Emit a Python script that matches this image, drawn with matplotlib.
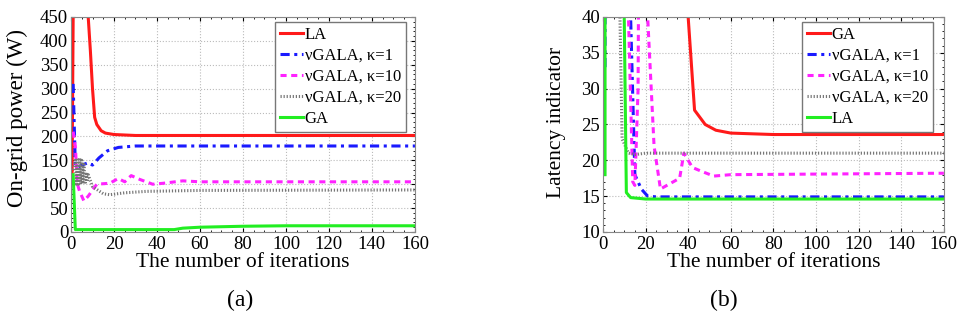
import numpy as np
import matplotlib
matplotlib.use("Agg")
import matplotlib.pyplot as plt
from matplotlib.ticker import MultipleLocator

plt.rcParams['font.family'] = ['Liberation Serif', 'DejaVu Serif']

# ---- panel (a): on-grid power ----
la_a_x = [0.5, 1, 2, 7, 8, 9, 10, 11, 12, 14, 16, 20, 30, 40, 160]
la_a_y = [120, 450, 900, 900, 450, 380, 300, 240, 225, 212, 207, 204, 202, 202, 202]

k1_a_x = [1, 2, 3, 5, 8, 10, 13, 17, 22, 30, 40, 160]
k1_a_y = [310, 140, 135, 140, 145, 140, 155, 170, 177, 180, 180, 180]

k10_a_x = [1, 2, 3, 4, 6, 8, 12, 18, 22, 25, 28, 32, 38, 43, 52, 60, 160]
k10_a_y = [210, 180, 100, 85, 65, 75, 100, 102, 112, 105, 118, 110, 100, 102, 107, 105, 105]

k20_a_x = [1, 2, 2.5, 3, 3.5, 4, 4.5, 5, 5.5, 6, 6.5, 7, 7.5, 8, 10, 15, 18, 25, 35, 60, 160]
k20_a_y = [130, 150, 100, 155, 100, 155, 100, 150, 105, 145, 100, 125, 105, 120, 95, 80, 78, 82, 85, 87, 88]

ga_a_x = [1, 2, 10, 48, 52, 60, 80, 100, 160]
ga_a_y = [120, 5, 5, 5, 8, 10, 12, 13, 13]

# ---- panel (b): latency indicator ----
ga_b_x = [39.9, 40, 43, 48, 53, 60, 80, 160]
ga_b_y = [60, 40, 27, 25, 24.2, 23.8, 23.6, 23.6]

k1_b_x = [1, 1.01, 12, 13, 15, 18, 21, 25, 160]
k1_b_y = [33, 60, 60, 40, 18, 16, 15, 14.9, 14.9]

k10_b_x = [11, 12, 14, 15, 16.5, 17, 20, 21, 24, 25, 27, 33, 36, 38, 42, 46, 52, 60, 160]
k10_b_y = [60, 40, 17, 16.5, 30, 60, 60, 40, 22, 20, 16, 17, 17.5, 21, 19, 18.5, 17.8, 18, 18.2]

k20_b_x = [7.9, 8, 9, 12, 15, 20, 160]
k20_b_y = [60, 40, 23, 21, 20.8, 21, 21]

la_b_x = [1, 1.01, 9.9, 10, 11, 13, 20, 160]
la_b_y = [18, 60, 60, 40, 15.5, 14.8, 14.6, 14.6]

labels_a = ['LA', 'νGALA, κ=1', 'νGALA, κ=10', 'νGALA, κ=20', 'GA']
labels_b = ['GA', 'νGALA, κ=1', 'νGALA, κ=10', 'νGALA, κ=20', 'LA']

RED = '#ff1a1a'
BLUE = '#1a1aff'
MAG = '#ff22ff'
GREY = '#777777'
GREEN = '#22ee22'

fig = plt.figure(figsize=(9.57, 3.25), dpi=100)
ax1 = fig.add_axes([0.0742, 0.2862, 0.3594, 0.6615])
ax2 = fig.add_axes([0.630, 0.2862, 0.3563, 0.6615])


def style(ax):
    ax.grid(True, which='major', color='#bbbbbb', linestyle=':', linewidth=0.8)
    ax.tick_params(which='both', direction='in', top=True, right=True, labelsize=13.5)
    ax.tick_params(axis='x', pad=3)
    ax.tick_params(axis='y', pad=2)
    ax.tick_params(which='major', length=3)
    ax.tick_params(which='minor', length=1.5)
    for s in ax.spines.values():
        s.set_color('#888888')
        s.set_linewidth(0.8)
    ax.set_xlim(0, 160)
    ax.xaxis.set_major_locator(MultipleLocator(20))
    ax.xaxis.set_minor_locator(MultipleLocator(5))
    ax.set_xlabel('The number of iterations', fontsize=15.5, labelpad=0)


def add_legend(ax, anchor):
    ax.legend(loc='upper right', bbox_to_anchor=anchor, borderaxespad=0, fontsize=12,
              handlelength=1.4, handletextpad=0.1, borderpad=0.3, labelspacing=0.3,
              fancybox=False, framealpha=1, edgecolor='#777777')


ax1.plot(la_a_x, la_a_y, color=RED, lw=2.2, label=labels_a[0])
ax1.plot(k1_a_x, k1_a_y, color=BLUE, lw=2.2, linestyle=(0, (3, 1.5, 1, 1.5)), label=labels_a[1])
ax1.plot(k10_a_x, k10_a_y, color=MAG, lw=2.2, linestyle=(0, (2, 1.5)), label=labels_a[2])
ax1.plot(k20_a_x, k20_a_y, color=GREY, lw=2.2, linestyle=(0, (0.4, 0.6)), label=labels_a[3])
ax1.plot(ga_a_x, ga_a_y, color=GREEN, lw=2.2, label=labels_a[4])
style(ax1)
ax1.set_ylim(0, 450)
ax1.yaxis.set_major_locator(MultipleLocator(50))
ax1.yaxis.set_minor_locator(MultipleLocator(10))
ax1.set_ylabel('On-grid power (W)', fontsize=16.5)
ax1.yaxis.set_label_coords(-0.125, 0.53)
add_legend(ax1, (0.974, 0.977))

ax2.plot(ga_b_x, ga_b_y, color=RED, lw=2.2, label=labels_b[0])
ax2.plot(k1_b_x, k1_b_y, color=BLUE, lw=2.2, linestyle=(0, (3, 1.5, 1, 1.5)), label=labels_b[1])
ax2.plot(k10_b_x, k10_b_y, color=MAG, lw=2.2, linestyle=(0, (2, 1.5)), label=labels_b[2])
ax2.plot(k20_b_x, k20_b_y, color=GREY, lw=2.2, linestyle=(0, (0.4, 0.6)), label=labels_b[3])
ax2.plot(la_b_x, la_b_y, color=GREEN, lw=2.2, label=labels_b[4])
style(ax2)
ax2.set_ylim(10, 40)
ax2.yaxis.set_major_locator(MultipleLocator(5))
ax2.yaxis.set_minor_locator(MultipleLocator(1))
ax2.set_ylabel('Latency indicator', fontsize=15.5)
ax2.yaxis.set_label_coords(-0.108, 0.51)
add_legend(ax2, (0.968, 0.977))

fig.text(240 / 957, 1 - 300 / 325, '(a)', ha='center', va='center', fontsize=17)
fig.text(724 / 957, 1 - 300 / 325, '(b)', ha='center', va='center', fontsize=17)

fig.savefig('out.png', dpi=100)
